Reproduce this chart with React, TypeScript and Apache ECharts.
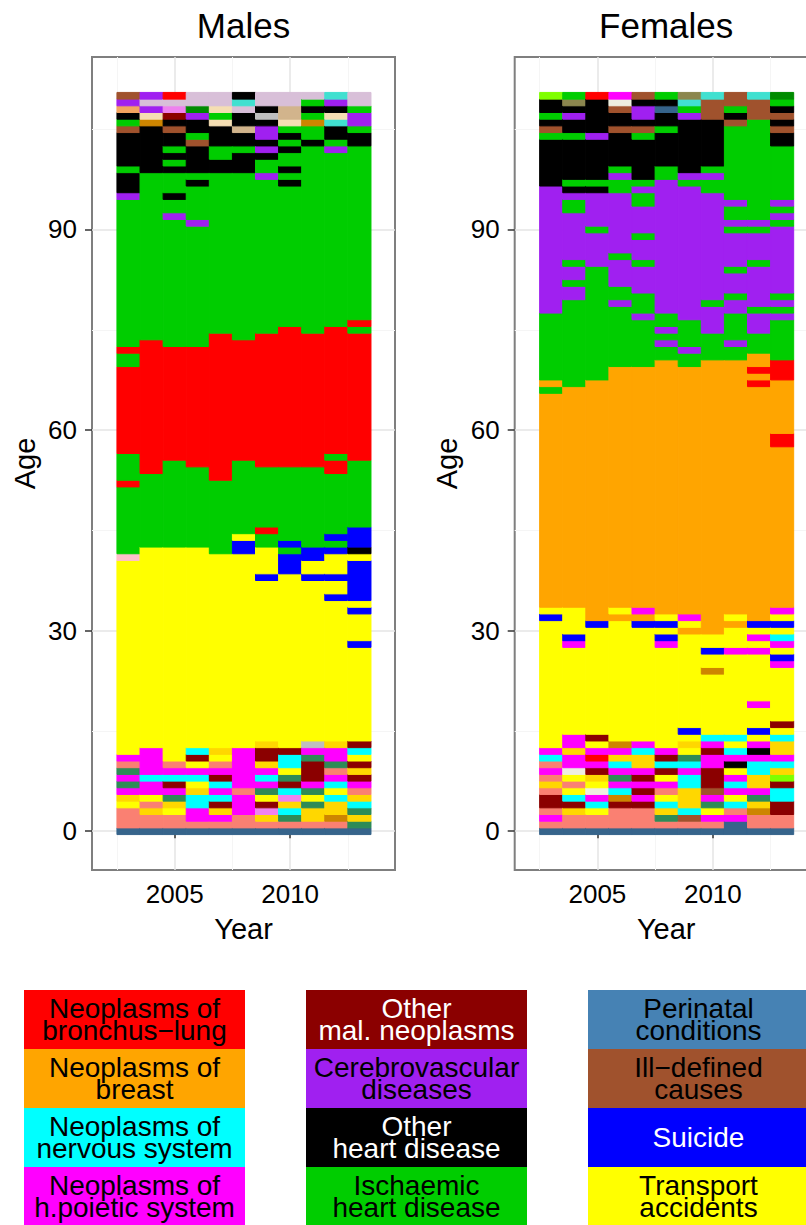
import React, { useEffect, useRef } from "react";
import * as echarts from "echarts";

// Calendar years on the x axis (one column of tiles per year)
const years = [2003, 2004, 2005, 2006, 2007, 2008, 2009, 2010, 2011, 2012, 2013];

// Causes of death: one-letter code, label and colour (legend order, four per column)
const causeCodes = [
  "R", "O", "C", "M",
  "D", "P", "K", "G",
  "S", "B", "U", "Y",
  "N", "L", "A", "E",
  "V", "H", "g", "p",
  "T", "W", "t", "s",
  "Q", "F", "c", "k",
  "I",
];
const causeNames = [
  "Neoplasms of\nbronchus−lung", "Neoplasms of\nbreast", "Neoplasms of\nnervous system", "Neoplasms of\nh.poietic system",
  "Other\nmal. neoplasms", "Cerebrovascular\ndiseases", "Other\nheart disease", "Ischaemic\nheart disease",
  "Perinatal\nconditions", "Ill−defined\ncauses", "Suicide", "Transport\naccidents",
  "Congenital\nanomalies", "Other\nexternal causes", "Other\naccidents", "Infectious\ndiseases",
  "Neoplasms of\nstomach", "Homicide", "Diabetes", "Drug\npoisoning",
  "Dementia", "Pneumonia", "Other respiratory\ndiseases", "Digestive\ndiseases",
  "Renal\ndiseases", "Hypertensive\ndiseases", "Other circulatory\ndiseases", "Endocrine\ndiseases",
  "Other\ncauses",
];
const causeColors = [
  "#FF0000", "#FFA500", "#00FFFF", "#FF00FF",
  "#8B0000", "#A020F0", "#000000", "#00CD00",
  "#4682B4", "#A0522D", "#0000FF", "#FFFF00",
  "#36648B", "#FA8072", "#FFD700", "#2E8B57",
  "#EE82EE", "#CD8500", "#BEBEBE", "#FFC0CB",
  "#D8BFD8", "#F5DEB3", "#D2B48C", "#F4A460",
  "#40E0D0", "#008B00", "#7FFF00", "#8B864E",
  "#EEEEE0",
];

// Leading cause by single year of age (0..110), run-length coded from age 0 upwards:
// each token is a cause code followed by the number of consecutive ages (1 if omitted).
const malesByYear = [
  "N L3 Y A M E M E L M Y29 p G10 R G4 R13 G2 R G22 P K3 G K5 B G K s P B",
  "N L2 A L Y M2 C M4 Y30 G11 R20 G25 K7 H W P T P",
  "N L2 Y A E M D C M L Y32 G13 R17 G19 P G2 K G3 K G K G K2 B K D V T R",
  "N L M2 C2 A Y C M Y D C Y30 G12 R18 G18 P G5 K G K4 B G K2 P F T2",
  "N L M A D C M C D M L Y A Y29 G11 R22 G24 K2 G2 K3 W G W T2",
  "N L2 M3 L M6 Y29 U2 Y G11 R18 G25 K3 G K2 t K2 T Q K",
  "N L A V D Y E M C M A D2 A Y24 U Y4 G2 R G9 R20 G23 P G2 K P K P2 K g K T2",
  "N L E C A V C D E Y C2 D Y26 U3 G U G11 R21 G21 K G K G2 K G K G W t2 T2",
  "N L A2 E Y E M D3 E M g Y24 U Y2 U2 G12 R20 G28 K G2 H G K G T",
  "N L H A2 C Y C M L E M2 A Y21 U Y2 U Y3 U G U G9 R2 G R19 G26 P G K2 Q W K P Q",
  "N E A E C A L M D A D Y C D Y14 U Y4 U Y U6 Y K U3 G10 R19 G R G26 K2 G P2 G T2",
];
const femalesByYear = [
  "N L M L D2 L A L M L C M Y19 U Y O32 G O G10 P19 K7 G B K G K2 c",
  "N L2 A D C Y L Y I M2 A M2 Y13 M U Y4 O33 G13 P2 G P2 G P7 G2 P K G K6 G K2 P K k G",
  "N L2 Y C M I Y A D M R M Y D Y16 U O36 G17 P5 G P5 K G K6 P K5 R",
  "N L3 D H C M E M C A M H Y18 O Y O36 G9 P G2 P4 G P9 G2 P G K5 B K2 B I M",
  "N L3 D M D M D M A2 C M Y17 U O M O36 G7 P G3 P4 G P3 G P4 G2 P G K6 G B K P2 K B",
  "N L E A C Y L M Y D C D M Y15 M U Y U Y O38 G2 P G P G2 P20 G2 K5 G K2 N K G",
  "N L B C A3 C2 M C E Y A Y U Y14 O Y M O37 G2 P G4 P20 G P K8 P G Q k",
  "N L M Y E M B D3 M2 D M C Y9 H Y2 U Y2 O41 G4 P4 G P16 G2 P G K7 B3 Q",
  "N2 M L C Y M C M Y K M C Y C Y12 M Y3 O Y O38 G2 P G4 P2 G P3 G P5 G P G2 P G11 B K G B2",
  "N L2 H A E M A2 C2 M K M Y U Y3 M Y7 M Y M Y U O35 R O R O2 G3 P3 G P6 G P4 G P G15 B3 Q",
  "N L2 D2 C2 D c A C M A2 C Y D Y8 M U Y M C Y U Y M O24 R2 O8 R3 G6 P G P G P10 G P G P G8 K2 B K B K G F",
];

const panelTitles = ["Males", "Females"];
const xMajorTicks = [2005, 2010];
const xMinorBreaks = [2002.5, 2007.5, 2012.5];
const yMajorTicks = [0, 30, 60, 90];
const yMinorBreaks = [15, 45, 75, 105];

const FONT = '"Liberation Sans", Arial, Helvetica, sans-serif';
const X_MIN = 2001.42;
const X_MAX = 2014.54;
const Y_MIN = -5.8;
const Y_MAX = 115.8;
const GRID_TOP = 57;
const GRID_W = 303;
const GRID_H = 813;
const GRID_LEFTS = [92, 514.7];

const LEG_X0 = 24;
const LEG_Y0 = 990;
const LEG_W = 221;
const LEG_H = 59;
const LEG_DX = 282;

const codeIndex: Record<string, number> = {};
causeCodes.forEach((c, i) => (codeIndex[c] = i));

// expand the run-length columns into [year, firstAge, lastAge, causeIndex] runs
function toRuns(columns: string[]) {
  const out: number[][] = [];
  columns.forEach((col, yi) => {
    let age = 0;
    col.trim().split(/\s+/).forEach((tok) => {
      const code = tok[0];
      const n = tok.length > 1 ? parseInt(tok.slice(1), 10) : 1;
      out.push([years[yi], age, age + n - 1, codeIndex[code]]);
      age += n;
    });
  });
  return out;
}

function textColorFor(hex: string) {
  const r = parseInt(hex.slice(1, 3), 16);
  const g = parseInt(hex.slice(3, 5), 16);
  const b = parseInt(hex.slice(5, 7), 16);
  const lum = 0.2126 * r + 0.7152 * g + 0.0722 * b;
  return lum < 50 ? "#FFFFFF" : "#000000";
}

function buildOption() {
  const grids: any[] = [];
  const xAxes: any[] = [];
  const yAxes: any[] = [];
  const series: any[] = [];
  const graphics: any[] = [];
  const panels = [malesByYear, femalesByYear];

  panels.forEach((cols, pi) => {
    grids.push({
      left: GRID_LEFTS[pi],
      top: GRID_TOP,
      width: GRID_W,
      height: GRID_H,
      show: true,
      backgroundColor: "#FFFFFF",
      borderColor: "#7F7F7F",
      borderWidth: 2,
    });
    // major x axis with labels and ticks
    xAxes.push({
      gridIndex: pi,
      type: "value",
      min: X_MIN,
      max: X_MAX,
      position: "bottom",
      name: "Year",
      nameLocation: "middle",
      nameGap: 44,
      nameTextStyle: { fontSize: 29, color: "#000", fontFamily: FONT },
      axisLine: { show: false },
      axisTick: { show: true, length: 7, customValues: xMajorTicks, lineStyle: { color: "#333", width: 1.5 } },
      axisLabel: {
        customValues: xMajorTicks,
        fontSize: 26,
        color: "#000",
        fontFamily: FONT,
        margin: 11,
        formatter: (v: number) => String(v),
      },
      splitLine: { show: true, lineStyle: { color: "#E5E5E5", width: 1.5 } },
    });
    // minor x grid lines
    xAxes.push({
      gridIndex: pi,
      type: "value",
      min: X_MIN,
      max: X_MAX,
      position: "top",
      axisLine: { show: false },
      axisTick: { show: false, customValues: xMinorBreaks },
      axisLabel: { show: false, customValues: xMinorBreaks },
      splitLine: { show: true, lineStyle: { color: "#F5F5F5", width: 1 } },
    });
    yAxes.push({
      gridIndex: pi,
      type: "value",
      min: Y_MIN,
      max: Y_MAX,
      position: "left",
      name: "Age",
      nameLocation: "middle",
      nameGap: 53,
      nameTextStyle: { fontSize: 29, color: "#000", fontFamily: FONT },
      axisLine: { show: false },
      axisTick: { show: true, length: 7, customValues: yMajorTicks, lineStyle: { color: "#333", width: 1.5 } },
      axisLabel: {
        customValues: yMajorTicks,
        fontSize: 26,
        color: "#000",
        fontFamily: FONT,
        margin: 15,
        formatter: (v: number) => String(v),
      },
      splitLine: { show: true, lineStyle: { color: "#E5E5E5", width: 1.5 } },
    });
    yAxes.push({
      gridIndex: pi,
      type: "value",
      min: Y_MIN,
      max: Y_MAX,
      position: "right",
      axisLine: { show: false },
      axisTick: { show: false, customValues: yMinorBreaks },
      axisLabel: { show: false, customValues: yMinorBreaks },
      splitLine: { show: true, lineStyle: { color: "#F5F5F5", width: 1 } },
    });

    series.push({
      type: "custom",
      name: panelTitles[pi],
      xAxisIndex: pi * 2,
      yAxisIndex: pi * 2,
      silent: true,
      clip: false,
      encode: { x: 0, y: [1, 2] },
      data: toRuns(cols),
      renderItem: (_params: any, api: any) => {
        const yr = api.value(0);
        const a0 = api.value(1);
        const a1 = api.value(2);
        const color = causeColors[api.value(3)];
        const p0 = api.coord([yr - 0.5, a1 + 0.5]);
        const p1 = api.coord([yr + 0.5, a0 - 0.5]);
        return {
          type: "rect",
          shape: { x: p0[0], y: p0[1], width: p1[0] - p0[0], height: p1[1] - p0[1] },
          style: { fill: color, stroke: color, lineWidth: 1 },
        };
      },
    });

    graphics.push({
      type: "text",
      x: GRID_LEFTS[pi] + GRID_W / 2,
      y: 25,
      style: {
        text: panelTitles[pi],
        fontSize: 35,
        fontFamily: FONT,
        fill: "#000",
        align: "center",
        verticalAlign: "middle",
      },
    });
  });

  // legend: coloured boxes with the cause name written inside
  causeNames.forEach((name, i) => {
    const col = Math.floor(i / 4);
    const row = i % 4;
    graphics.push({
      type: "group",
      x: LEG_X0 + col * LEG_DX,
      y: LEG_Y0 + row * LEG_H,
      children: [
        {
          type: "rect",
          shape: { x: 0, y: 0, width: LEG_W, height: LEG_H + 0.5 },
          style: { fill: causeColors[i] },
        },
        {
          type: "text",
          x: LEG_W / 2,
          y: LEG_H / 2,
          style: {
            text: name,
            fontSize: 28,
            fontFamily: FONT,
            lineHeight: 22,
            fill: textColorFor(causeColors[i]),
            align: "center",
            verticalAlign: "middle",
          },
        },
      ],
    });
  });

  return {
    animation: false,
    backgroundColor: "#FFFFFF",
    grid: grids,
    xAxis: xAxes,
    yAxis: yAxes,
    series,
    graphic: graphics,
  };
}

export default function App() {
  const ref = useRef<HTMLDivElement>(null);
  useEffect(() => {
    if (!ref.current) return;
    const chart = echarts.init(ref.current, undefined, { renderer: "svg" });
    chart.setOption(buildOption() as any);
    return () => chart.dispose();
  }, []);
  return (
    <div
      style={{
        position: "fixed",
        left: 0,
        top: 0,
        width: 806,
        height: 1225,
        overflow: "hidden",
        background: "#FFFFFF",
      }}
    >
      <div ref={ref} style={{ width: 830, height: 1225 }} />
    </div>
  );
}
